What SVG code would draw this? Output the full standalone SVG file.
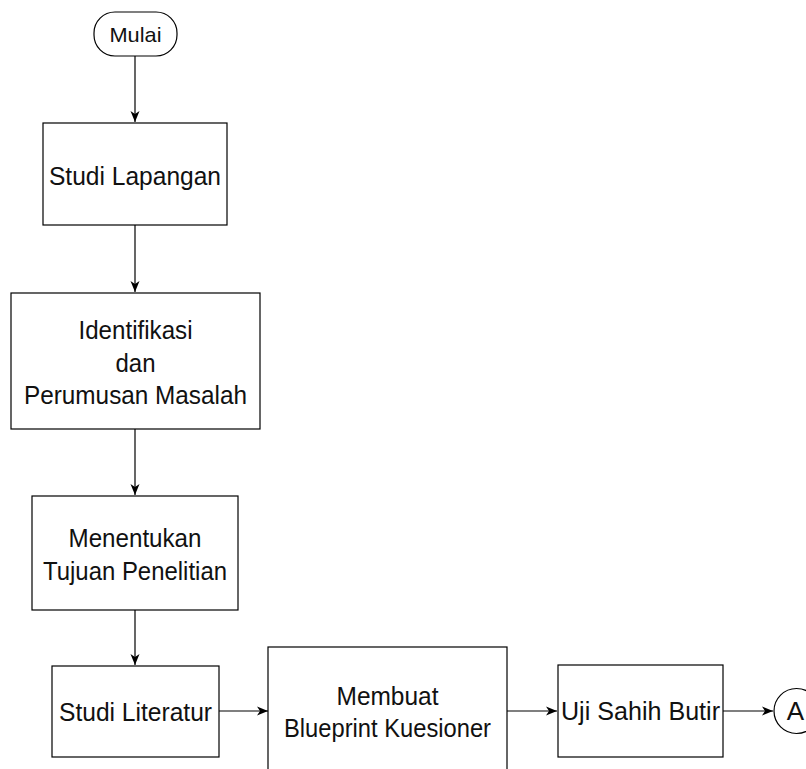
<svg xmlns="http://www.w3.org/2000/svg" width="806" height="769" viewBox="0 0 806 769">
  <defs>
    <marker id="arrow" markerUnits="userSpaceOnUse" markerWidth="12" markerHeight="12" viewBox="0 0 12 12" refX="11" refY="6" orient="auto">
      <path d="M0,1.5 L11,6 L0,10.5 L3,6 Z" fill="#000"/>
    </marker>
    <style>
      .box { fill: #fff; stroke: #000; stroke-width: 1.2; }
      .lbl { font-family: "Liberation Sans", Arial, sans-serif; font-size: 26px; fill: #111; text-anchor: middle; }
      .conn { stroke: #000; stroke-width: 1.2; fill: none; marker-end: url(#arrow); }
    </style>
  </defs>
  <rect width="806" height="769" fill="#fff"/>

  <g id="connectors">
    <line class="conn" x1="135" y1="56" x2="135" y2="122"/>
    <line class="conn" x1="135" y1="225" x2="135" y2="292"/>
    <line class="conn" x1="135" y1="429" x2="135" y2="495"/>
    <line class="conn" x1="135" y1="610" x2="135" y2="665"/>
    <line class="conn" x1="219" y1="711" x2="268" y2="711"/>
    <line class="conn" x1="507" y1="711" x2="557" y2="711"/>
    <line class="conn" x1="723" y1="711" x2="773" y2="711"/>
  </g>

  <g id="mulai">
    <rect class="box" x="94" y="12" width="83" height="44" rx="21" ry="21"/>
    <text class="lbl" x="135.5" y="42" style="font-size:21px" textLength="52" lengthAdjust="spacingAndGlyphs">Mulai</text>
  </g>

  <g id="studi-lapangan">
    <rect class="box" x="43" y="123" width="184" height="102"/>
    <text class="lbl" x="135" y="185" textLength="172" lengthAdjust="spacingAndGlyphs">Studi Lapangan</text>
  </g>

  <g id="identifikasi">
    <rect class="box" x="11" y="293" width="249" height="136"/>
    <text class="lbl" x="135.5" y="339" textLength="114" lengthAdjust="spacingAndGlyphs">Identifikasi</text>
    <text class="lbl" x="135.5" y="372" textLength="40" lengthAdjust="spacingAndGlyphs">dan</text>
    <text class="lbl" x="135.5" y="404" textLength="223" lengthAdjust="spacingAndGlyphs">Perumusan Masalah</text>
  </g>

  <g id="menentukan">
    <rect class="box" x="32" y="496" width="206" height="114"/>
    <text class="lbl" x="135" y="547" textLength="133" lengthAdjust="spacingAndGlyphs">Menentukan</text>
    <text class="lbl" x="135" y="580" textLength="184" lengthAdjust="spacingAndGlyphs">Tujuan Penelitian</text>
  </g>

  <g id="studi-literatur">
    <rect class="box" x="52" y="666" width="167" height="91"/>
    <text class="lbl" x="135.5" y="721" textLength="153" lengthAdjust="spacingAndGlyphs">Studi Literatur</text>
  </g>

  <g id="membuat">
    <rect class="box" x="268" y="647" width="239" height="140"/>
    <text class="lbl" x="387.5" y="705" textLength="102" lengthAdjust="spacingAndGlyphs">Membuat</text>
    <text class="lbl" x="387.5" y="737" textLength="207" lengthAdjust="spacingAndGlyphs">Blueprint Kuesioner</text>
  </g>

  <g id="uji-sahih">
    <rect class="box" x="558" y="665" width="165" height="92"/>
    <text class="lbl" x="640.5" y="720" textLength="159" lengthAdjust="spacingAndGlyphs">Uji Sahih Butir</text>
  </g>

  <g id="connector-a">
    <circle class="box" cx="796.5" cy="711" r="22.5"/>
    <text class="lbl" x="795.5" y="720">A</text>
  </g>
</svg>
